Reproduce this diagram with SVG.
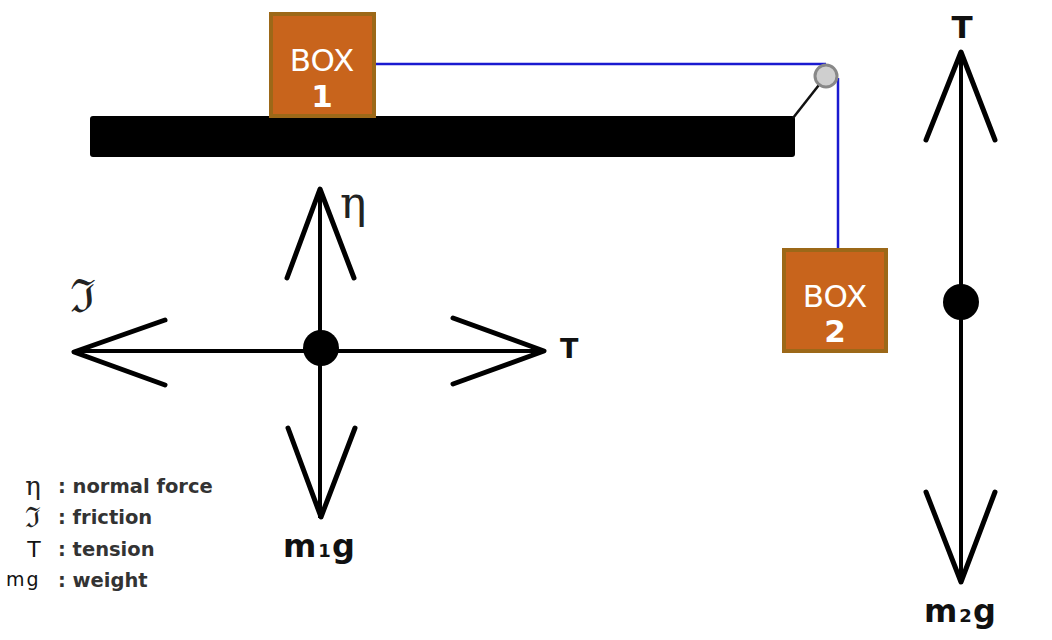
<svg xmlns="http://www.w3.org/2000/svg" width="1052" height="640" viewBox="0 0 1052 640">
<style>
.box{fill:#C8641C;stroke:#9C6818;stroke-width:4}
.bt{font-family:"DejaVu Sans","Liberation Sans",sans-serif;font-size:31px;fill:#fff;text-anchor:middle}
.rope{stroke:#1A1AD0;stroke-width:2.5;fill:none}
.ar{stroke:#000;stroke-width:5;fill:none;stroke-linecap:round;stroke-linejoin:round}
.sh{stroke:#000;stroke-width:4;fill:none}
.lb{font-family:"DejaVu Sans","Liberation Sans",sans-serif;fill:#111}
.lg{font-family:"DejaVu Sans","Liberation Sans",sans-serif;font-weight:bold;font-size:19.5px;fill:#333}
.sy{font-family:"DejaVu Serif","Liberation Serif",serif;fill:#222}
</style>
<g id="table"><rect x="90" y="116" width="705" height="41" rx="3" fill="#000"/></g>
<g id="connectors">
<path class="rope" d="M375 64 H826"/>
<path class="rope" d="M838 78 V249"/>
<path d="M793 118 L826 76" stroke="#111" stroke-width="2.5"/>
</g>
<g id="pulley"><circle cx="826" cy="76" r="11" fill="#cfcfcf" stroke="#888" stroke-width="3"/></g>
<g id="box1"><rect class="box" x="271" y="14" width="103" height="102"/><text class="bt" x="322" y="71">BOX</text><text class="bt" x="322" y="107" font-weight="bold">1</text></g>
<g id="box2"><rect class="box" x="784" y="250" width="102" height="101"/><text class="bt" x="835" y="307">BOX</text><text class="bt" x="835" y="342" font-weight="bold">2</text></g>
<g id="fbd1">
<path class="sh" d="M320 189 V518 M75 351 H543"/>
<path class="ar" d="M287 278 L320 189 L354 278"/>
<path class="ar" d="M288 428 L321 517 L355 428"/>
<path class="ar" d="M165 320 L74 352 L165 385"/>
<path class="ar" d="M453 318 L544 351 L453 384"/>
<circle cx="321" cy="348" r="18" fill="#000"/>
<text class="sy" x="340" y="218" font-size="44">η</text>
<text class="sy" x="70" y="312" font-size="46">ℑ</text>
<text class="lb" x="560" y="358" font-size="27" font-weight="bold">T</text>
<text class="lb" x="283" y="557" font-size="32" font-weight="bold">m<tspan font-size="18" dx="2">1</tspan><tspan dx="1">g</tspan></text>
</g>
<g id="fbd2">
<path class="sh" d="M961 52 V583"/>
<path class="ar" d="M926 140 L961 52 L995 140"/>
<path class="ar" d="M926 492 L961 582 L995 492"/>
<circle cx="961" cy="302" r="18" fill="#000"/>
<text class="lb" x="962" y="38" font-size="31" font-weight="bold" text-anchor="middle">T</text>
<text class="lb" x="924" y="622" font-size="32" font-weight="bold">m<tspan font-size="18" dx="2">2</tspan><tspan dx="1">g</tspan></text>
</g>
<g id="legend">
<text class="sy" x="33" y="495" font-size="26" text-anchor="middle">η</text>
<text class="sy" x="33" y="527" font-size="28" text-anchor="middle">ℑ</text>
<text class="lb" x="34" y="557" font-size="22" text-anchor="middle">T</text>
<text class="lb" x="6" y="586" font-size="19">m<tspan dx="2">g</tspan></text>
<text class="lg" x="58" y="493">: normal force</text>
<text class="lg" x="58" y="524">: friction</text>
<text class="lg" x="58" y="556">: tension</text>
<text class="lg" x="58" y="587">: weight</text>
</g>
</svg>
